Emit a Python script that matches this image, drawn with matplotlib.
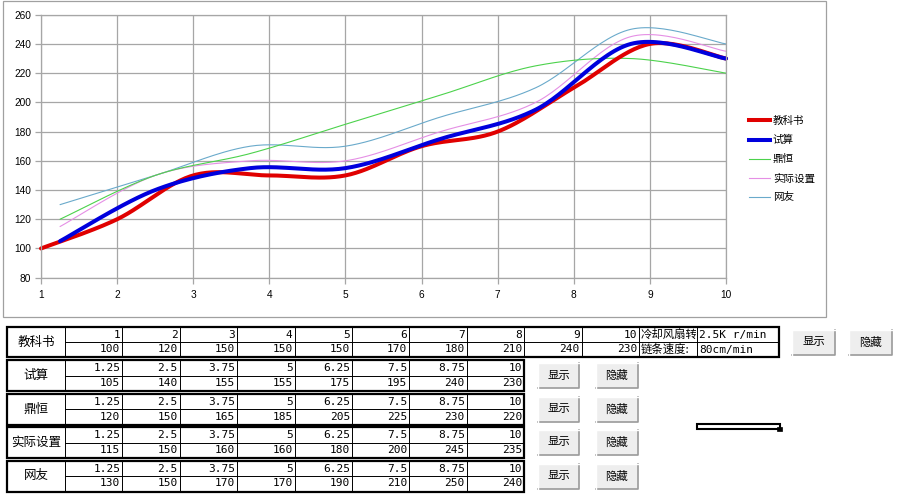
import numpy as np
import matplotlib
matplotlib.use('Agg')
import matplotlib.pyplot as plt
from matplotlib.patches import Rectangle
from matplotlib.lines import Line2D

# data
book_x = [1, 2, 3, 4, 5, 6, 7, 8, 9, 10]
book_y = [100, 120, 150, 150, 150, 170, 180, 210, 240, 230]
other_x = [1.25, 2.5, 3.75, 5, 6.25, 7.5, 8.75, 10]
calc_y = [105, 140, 155, 155, 175, 195, 240, 230]
dingheng_y = [120, 150, 165, 185, 205, 225, 230, 220]
actual_y = [115, 150, 160, 160, 180, 200, 245, 235]
netizen_y = [130, 150, 170, 170, 190, 210, 250, 240]

names = ['教科书', '试算', '鼎恒', '实际设置', '网友']
colors = ['#e00000', '#0000dd', '#4cd24c', '#e58fe5', '#6aaacb']
widths = [2.9, 2.9, 0.8, 0.8, 0.8]

fan_label = '冷却风扇转速:'
fan_value = '2.5K r/min'
chain_label = '链条速度:'
chain_value = '80cm/min'

CJK = ['Noto Sans CJK SC', 'DejaVu Sans']
MONO = ['DejaVu Sans Mono', 'Noto Sans CJK SC']


def smooth(x, y, n=30):
    # excel style smoothed line (catmull-rom bezier)
    p = np.column_stack([x, y]).astype(float)
    p = np.vstack([p[:1], p, p[-1:]])
    t = np.linspace(0, 1, n)[:, None]
    out = []
    for i in range(1, len(p) - 2):
        p0, p1, p2, p3 = p[i - 1], p[i], p[i + 1], p[i + 2]
        c1 = p1 + (p2 - p0) / 6
        c2 = p2 - (p3 - p1) / 6
        seg = (1 - t) ** 3 * p1 + 3 * (1 - t) ** 2 * t * c1 + 3 * (1 - t) * t ** 2 * c2 + t ** 3 * p2
        out.append(seg)
    out = np.vstack(out)
    return out[:, 0], out[:, 1]


W, H = 899, 496
fig = plt.figure(figsize=(W / 100, H / 100), dpi=100)
bg = fig.add_axes([0, 0, 1, 1])
bg.set_xlim(0, W)
bg.set_ylim(H, 0)
bg.axis('off')

# chart frame
bg.add_patch(Rectangle((3, 1), 823, 316, fc='white', ec='#a0a0a0', lw=0.9))

# plot area
x0, x1, y0, y1 = 41, 726, 14.7, 277.7
ax = fig.add_axes([x0 / W, 1 - y1 / H, (x1 - x0) / W, (y1 - y0) / H])
ax.set_facecolor('white')
ax.set_xlim(1, 10)
ax.set_ylim(80, 260)
ax.set_xticks(range(1, 11))
ax.set_yticks(range(80, 261, 20))
ax.grid(True, color='#a6a6a6', lw=0.9)
ax.set_axisbelow(True)
for s in ax.spines.values():
    s.set_color('#a6a6a6')
    s.set_linewidth(0.9)
ax.tick_params(colors='#a6a6a6', length=4, width=0.9, labelcolor='black', labelsize=7.3, pad=3)
ax.tick_params(axis='x', pad=5)
for lab in ax.get_xticklabels() + ax.get_yticklabels():
    lab.set_family('Liberation Sans')

series = [(book_x, book_y), (other_x, calc_y), (other_x, dingheng_y),
          (other_x, actual_y), (other_x, netizen_y)]
order = [4, 3, 2, 0, 1]
handles = [None] * 5
for i in order:
    sx, sy = smooth(*series[i])
    ax.plot(sx, sy, color=colors[i], lw=widths[i], solid_capstyle='round', clip_on=False)
    handles[i] = Line2D([], [], color=colors[i], lw=widths[i])

leg = fig.legend(handles, names, loc='upper left', bbox_to_anchor=(749 / W, 1 - 116 / H),
                 frameon=False, prop={'family': CJK, 'size': 7.6}, handlelength=2.0,
                 handletextpad=0.25, labelspacing=0.85, borderpad=0, borderaxespad=0)

# ---------- sheet part ----------
col_w = 57.4
label_w = 58
left = 7


def block(top, label, xs, ys, h=31):
    n = len(xs)
    right = left + label_w + n * col_w
    mid = top + h / 2
    bg.plot([left + label_w, right], [mid, mid], color='black', lw=0.7)
    for k in range(n):
        cx = left + label_w + k * col_w
        bg.plot([cx, cx], [top, top + h], color='black', lw=0.7)
        bg.text(cx + col_w - 2, mid - 7.3, str(xs[k]), ha='right', va='center',
                family=MONO, fontsize=8)
        bg.text(cx + col_w - 2, mid + 7.5, str(ys[k]), ha='right', va='center',
                family=MONO, fontsize=8)
    bg.text(left + label_w / 2, mid, label, ha='center', va='center', family=CJK, fontsize=9)
    return right


def box(a, top, b, h=31):
    bg.add_patch(Rectangle((a, top), b - a, h, fc='none', ec='black', lw=1.6, zorder=5))


def button(x, y, label, w=42, h=25):
    bg.add_patch(Rectangle((x, y), w, h, fc='#eeeeee', ec='none'))
    bg.plot([x, x + w, x + w], [y + h, y + h, y], color='#9a9a9a', lw=1.2)
    bg.plot([x, x, x + w], [y + h, y, y], color='white', lw=1.0)
    bg.text(x + w / 2, y + h / 2, label, ha='center', va='center', family=CJK, fontsize=8.2)


# row 1 : textbook
top = 327
r = block(top, names[0], book_x, book_y, h=30)
c1, c2 = r + 58, r + 58 + 82
for cx in [r, c1]:
    bg.plot([cx, cx], [top, top + 30], color='black', lw=0.7)
bg.plot([r, c2], [top + 15, top + 15], color='black', lw=0.7)
# label is cut by the cell like in the sheet
clip = Rectangle((r, top), 57, 30, transform=bg.transData)
t = bg.text(r + 1.5, top + 7.6, fan_label, ha='left', va='center', family=CJK,
            fontsize=8.2, clip_on=True)
t.set_clip_path(clip)
bg.text(r + 1.5, top + 22.6, chain_label, ha='left', va='center', family=CJK, fontsize=8.2)
bg.text(c1 + 2, top + 7.6, fan_value, ha='left', va='center', family=MONO, fontsize=8)
bg.text(c1 + 2, top + 22.6, chain_value, ha='left', va='center', family=MONO, fontsize=8)
box(left, top, c2, h=30)
button(792, 330, '显示', w=43)
button(849, 330, '隐藏', w=43)

# rows 2..5
other_rows = [calc_y, dingheng_y, actual_y, netizen_y]
tops = [360, 393.5, 427, 460.5]
for k in range(4):
    r = block(tops[k], names[k + 1], other_x, other_rows[k])
    box(left, tops[k], r)
    button(538, tops[k] + 3, '显示', w=41)
    button(596, tops[k] + 3, '隐藏', w=42)

# small line shape
bg.add_patch(Rectangle((697, 423.5), 83, 5, fc='white', ec='black', lw=1.5))
bg.add_patch(Rectangle((777, 426.5), 4.5, 4.5, fc='black', ec='black', lw=0.5))

fig.savefig('out.png', dpi=100)
